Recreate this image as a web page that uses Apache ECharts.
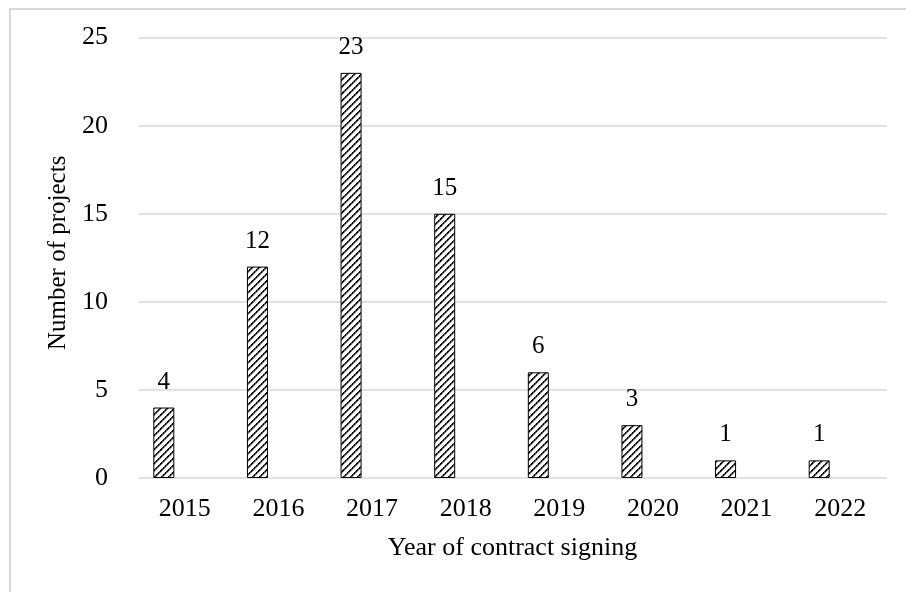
<!DOCTYPE html>
<html>
<head>
<meta charset="utf-8">
<script src="https://cdn.jsdelivr.net/npm/echarts@6/dist/echarts.min.js"></script>
<style>
  html, body { margin: 0; padding: 0; background: #fff; }
  #chart { width: 906px; height: 592px; }
</style>
</head>
<body>
<div id="chart"></div>
<script>
var years = ['2015', '2016', '2017', '2018', '2019', '2020', '2021', '2022'];
var projects = [4, 12, 23, 15, 6, 3, 1, 1];
// excel left room for two more (empty) series next to each bar
var emptyA = ['-', '-', '-', '-', '-', '-', '-', '-'];
var emptyB = ['-', '-', '-', '-', '-', '-', '-', '-'];

// upward diagonal hatch like the excel pattern fill
function hatch() {
    var c = document.createElement('canvas');
    c.width = 7;
    c.height = 7;
    var ctx = c.getContext('2d');
    ctx.fillStyle = '#fff';
    ctx.fillRect(0, 0, 7, 7);
    for (var y = 0; y < 7; y++) {
        for (var x = 0; x < 7; x++) {
            var k = (x + y) % 7;
            if (k === 0 || k === 1) {
                ctx.fillStyle = (x % 2 === 0) ? '#000' : '#444';
                ctx.fillRect(x, y, 1, 1);
            } else if (k === 2) {
                ctx.fillStyle = '#999';
                ctx.fillRect(x, y, 1, 1);
            }
        }
    }
    return c;
}

var font = 'Liberation Serif';
var myChart = echarts.init(document.getElementById('chart'));

var option = {
    animation: false,
    backgroundColor: '#fff',
    graphic: [{
        type: 'rect',
        shape: { x: 10, y: 9, width: 1000, height: 1000 },
        style: { fill: 'none', stroke: '#d9d9d9', lineWidth: 2 },
        silent: true
    }],
    grid: { left: 138, right: 19, top: 37.6, bottom: 114 },
    xAxis: {
        type: 'category',
        data: years,
        name: 'Year of contract signing',
        nameLocation: 'middle',
        nameGap: 57,
        nameTextStyle: { fontFamily: font, fontSize: 26, color: '#000', verticalAlign: 'top' },
        axisLine: { show: false },
        axisTick: { show: false },
        axisLabel: { fontFamily: font, fontSize: 26, color: '#000', margin: 18 }
    },
    yAxis: {
        type: 'value',
        min: 0,
        max: 25,
        interval: 5,
        name: 'Number of projects',
        nameLocation: 'middle',
        nameGap: 57,
        nameTextStyle: { fontFamily: font, fontSize: 25, color: '#000', padding: [0, 0, 0, 10] },
        axisLine: { show: false },
        axisTick: { show: false },
        axisLabel: { fontFamily: font, fontSize: 26, color: '#000', margin: 30 },
        splitLine: { lineStyle: { color: '#d9d9d9', width: 1.5 } }
    },
    series: [
        {
            name: 'Projects',
            type: 'bar',
            data: projects,
            barWidth: 21,
            barGap: '0%',
            itemStyle: {
                color: { image: hatch(), repeat: 'repeat' },
                borderColor: '#000',
                borderWidth: 1
            },
            label: {
                show: true,
                position: 'top',
                distance: 13,
                fontFamily: font,
                fontSize: 25,
                color: '#000'
            }
        },
        { name: 'A', type: 'bar', data: emptyA, barWidth: 21, barGap: '0%' },
        { name: 'B', type: 'bar', data: emptyB, barWidth: 21, barGap: '0%' }
    ]
};

myChart.setOption(option);
</script>
</body>
</html>
